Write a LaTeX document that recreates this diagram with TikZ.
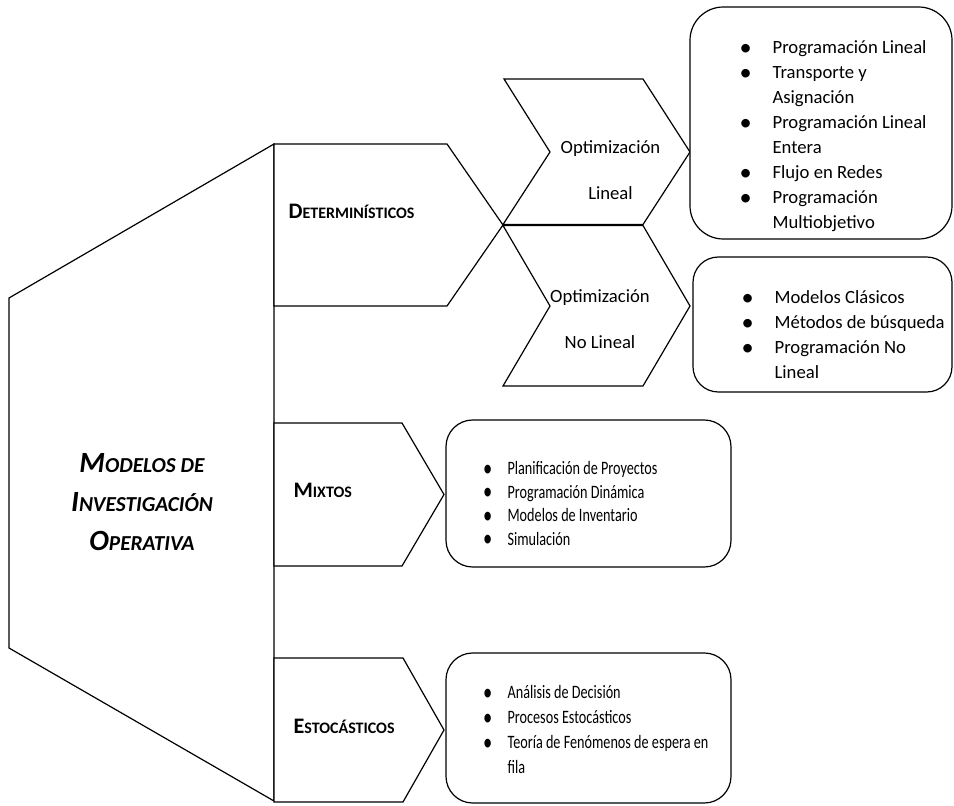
\documentclass[tikz,border=0pt]{standalone}
\usepackage{fontspec}
\setmainfont{Carlito}
% faked small capitals: first letter full size, the rest smaller
\newcommand\ttlsc[2]{#1{\fontsize{16}{16}\selectfont #2}}
\newcommand\catsc[2]{#1{\fontsize{12}{12}\selectfont #2}}
% bullet item: bullet hangs to the left of the text start
\newcommand\blt{\raisebox{-1.2pt}{\scalebox{1.3}{\textbullet}}}
\newcommand\itm[2][20.25pt]{\llap{\makebox[0pt][c]{\blt}\hspace{#1}}#2}
\newcommand\bigstrut{\rule{0pt}{12pt}}
% narrow list: text squeezed horizontally
\newcommand\narrowlist[2]{\scalebox{0.75}[1]{\fontsize{14.2}{#1}\selectfont
  \def\arraystretch{1}\begin{tabular}{@{}l@{}}#2\end{tabular}}}
\begin{document}
\begin{tikzpicture}[x=0.75pt,y=-0.75pt,line width=0.9pt,line join=miter,
  outline/.style={draw=black,fill=white},
  listbox/.style={draw=black,fill=white},
  cat/.style={anchor=base west,inner sep=0pt,font=\fontsize{16.6}{19}\selectfont\bfseries},
  chevtext/.style={anchor=north,inner sep=0pt,align=center,font=\fontsize{14}{34.5}\selectfont},
  biglist/.style={anchor=north west,inner sep=0pt,align=left,font=\fontsize{14}{18.75}\selectfont},
  smalllist/.style={anchor=north west,inner sep=0pt}]
\useasboundingbox (0,0) rectangle (954,806);

% main block
\draw[outline] (274,144) -- (9,298) -- (9,648) -- (274,801) -- cycle;
\node[inner sep=0pt,align=center,font=\fontsize{22}{29.25}\selectfont\bfseries\itshape] (title) at (142,502)
  {\ttlsc{M}{ODELOS DE}\\\ttlsc{I}{NVESTIGACIÓN}\\\ttlsc{O}{PERATIVA}};

% category chevrons
\draw[outline] (274,144) -- (447,144) -- (503,225) -- (447,306) -- (274,306) -- cycle;
\draw[outline] (274,423) -- (402,423) -- (444,494.5) -- (402,566) -- (274,566) -- cycle;
\draw[outline] (274,658) -- (403,658) -- (444,730) -- (403,802) -- (274,802) -- cycle;
\node[cat] (det) at (288,219) {\catsc{D}{ETERMINÍSTICOS}};
\node[cat] (mix) at (293,497) {\catsc{M}{IXTOS}};
\node[cat] (est) at (293,733) {\catsc{E}{STOCÁSTICOS}};

% optimisation chevrons
\draw[outline] (504,79) -- (643,79) -- (690,152) -- (643,224.5) -- (503,224.5) -- (550,152) -- cycle;
\draw[outline] (503,225.5) -- (643,225.5) -- (690,306) -- (643,386) -- (503,386) -- (550,306) -- cycle;
\node[chevtext] (optlin) at (610.5,137) {\bigstrut Optimización\\Lineal};
\node[chevtext] (optnl) at (600,286) {\bigstrut Optimización\\No Lineal};

% lists
\draw[listbox,rounded corners=25pt] (690,7) rectangle (952,239);
\draw[listbox,rounded corners=19pt] (693,257) rectangle (952,392);
\draw[listbox,rounded corners=20pt] (446,420) rectangle (731,567);
\draw[listbox,rounded corners=20pt] (446,653) rectangle (731,803);

\node[biglist] (l1) at (772,37) {\bigstrut\itm{Programación Lineal}\\\itm{Transporte y}\\Asignación\\
  \itm{Programación Lineal}\\Entera\\\itm{Flujo en Redes}\\\itm{Programación}\\Multiobjetivo};
\node[biglist] (l2) at (774,287) {\bigstrut\itm{Modelos Clásicos}\\\itm{Métodos de búsqueda}\\
  \itm{Programación No}\\Lineal};
\node[smalllist] (l3) at (507,457.6) {\narrowlist{17.6}{\itm[20pt]{Planificación de Proyectos}\\
  \itm[20pt]{Programación Dinámica}\\\itm[20pt]{Modelos de Inventario}\\\itm[20pt]{Simulación}}};
\node[smalllist] (l4) at (507,680.5) {\narrowlist{18.75}{\itm[20pt]{Análisis de Decisión}\\
  \itm[20pt]{Procesos Estocásticos}\\\itm[20pt]{Teoría de Fenómenos de espera en}\\fila}};
\end{tikzpicture}
\end{document}
